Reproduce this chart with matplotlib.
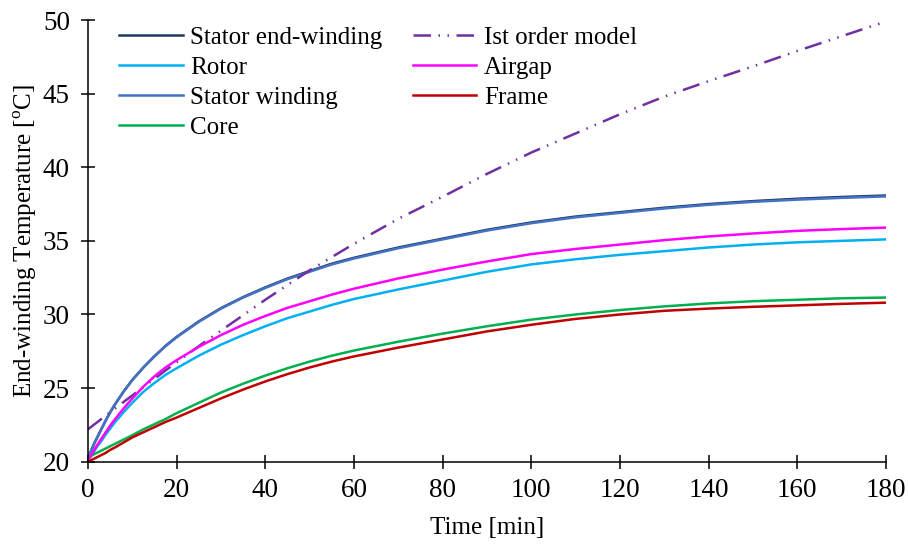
import matplotlib
matplotlib.use("Agg")
import matplotlib.pyplot as plt

plt.rcParams['font.family'] = ['Liberation Serif', 'DejaVu Serif']
plt.rcParams['mathtext.fontset'] = 'custom'
plt.rcParams['mathtext.rm'] = 'Liberation Serif'

# Time samples [min]
time_min = [0, 0.5, 1, 1.5, 2, 3, 4, 5, 6, 8, 10, 12.5, 15, 17.5, 20, 25, 30,
            35, 40, 45, 50, 55, 60, 70, 80, 90, 100, 110, 120, 130, 140, 150,
            160, 170, 180]

stator_end_winding = [20.2, 20.6, 20.95, 21.3, 21.6, 22.2, 22.8, 23.35, 23.85,
                      24.75, 25.55, 26.4, 27.17, 27.87, 28.48, 29.53, 30.43,
                      31.18, 31.84, 32.44, 32.95, 33.45, 33.85, 34.55, 35.15,
                      35.75, 36.25, 36.65, 36.95, 37.25, 37.5, 37.7, 37.86,
                      37.98, 38.08]
rotor = [20.1, 20.3, 20.5, 20.75, 21.0, 21.4, 21.85, 22.25, 22.65, 23.35, 24.0,
         24.75, 25.35, 25.9, 26.35, 27.2, 27.95, 28.6, 29.2, 29.75, 30.2, 30.65,
         31.05, 31.7, 32.3, 32.9, 33.4, 33.75, 34.05, 34.3, 34.55, 34.75, 34.9,
         35.0, 35.1]
stator_winding = [20.2, 20.6, 20.95, 21.3, 21.6, 22.2, 22.8, 23.35, 23.85, 24.75,
                  25.55, 26.4, 27.15, 27.85, 28.45, 29.5, 30.4, 31.15, 31.8,
                  32.4, 32.9, 33.4, 33.8, 34.5, 35.1, 35.7, 36.2, 36.6, 36.9,
                  37.2, 37.45, 37.65, 37.8, 37.92, 38.02]
core = [20.3, 20.38, 20.45, 20.53, 20.6, 20.75, 20.9, 21.05, 21.2, 21.5, 21.8,
        22.2, 22.55, 22.9, 23.3, 24.0, 24.7, 25.3, 25.85, 26.35, 26.8, 27.2,
        27.55, 28.15, 28.7, 29.2, 29.65, 30.0, 30.3, 30.55, 30.75, 30.9, 31.0,
        31.1, 31.15]
first_order_model = [22.2, 22.32, 22.43, 22.55, 22.66, 22.9, 23.13, 23.36, 23.59,
                     24.05, 24.5, 25.07, 25.63, 26.2, 26.75, 27.85, 28.9, 29.95,
                     31.0, 32.0, 33.0, 33.9, 34.8, 36.5, 38.0, 39.55, 41.0, 42.3,
                     43.6, 44.8, 45.85, 46.85, 47.9, 48.9, 49.9]
airgap = [20.1, 20.35, 20.6, 20.85, 21.1, 21.55, 22.0, 22.45, 22.85, 23.6, 24.3,
          25.1, 25.8, 26.4, 26.9, 27.8, 28.6, 29.3, 29.9, 30.45, 30.9, 31.35,
          31.75, 32.45, 33.05, 33.6, 34.1, 34.45, 34.75, 35.05, 35.3, 35.5,
          35.68, 35.8, 35.9]
frame = [20.0, 20.07, 20.15, 20.22, 20.3, 20.45, 20.6, 20.8, 20.95, 21.3, 21.65,
         22.0, 22.35, 22.7, 23.0, 23.65, 24.3, 24.9, 25.45, 25.95, 26.4, 26.8,
         27.15, 27.75, 28.3, 28.85, 29.3, 29.7, 30.0, 30.25, 30.4, 30.52, 30.62,
         30.72, 30.8]

x_ticks = [0, 20, 40, 60, 80, 100, 120, 140, 160, 180]
y_ticks = [20, 25, 30, 35, 40, 45, 50]

FS = 18
TICK_FS = 19.5

fig = plt.figure(figsize=(9.08, 5.44), dpi=100)
ax = fig.add_axes([0.0969, 0.1513, 0.8789, 0.8119])

lw = 1.8
h_sew, = ax.plot(time_min, stator_end_winding, color='#1F3864', lw=lw, label='Stator end-winding')
h_rot, = ax.plot(time_min, rotor, color='#00B0F0', lw=lw, label='Rotor')
h_sw, = ax.plot(time_min, stator_winding, color='#4472C4', lw=lw, label='Stator winding')
h_core, = ax.plot(time_min, core, color='#00B050', lw=lw, label='Core')
h_fom, = ax.plot(time_min, first_order_model, color='#7030A0', lw=lw,
                 linestyle=(0, (7, 3, 0.6, 3, 0.6, 3)), label='Ist order model')
h_air, = ax.plot(time_min, airgap, color='#FF00FF', lw=lw, label='Airgap')
h_fr, = ax.plot(time_min, frame, color='#C00000', lw=lw, label='Frame')

ax.set_xlim(0, 180)
ax.set_ylim(20, 50)
ax.set_xticks(x_ticks)
ax.set_yticks(y_ticks)
ax.tick_params(direction='inout', length=10, width=1.1, labelsize=TICK_FS)
ax.tick_params(axis='x', pad=7)
ax.tick_params(axis='y', pad=8)
for side in ('top', 'right'):
    ax.spines[side].set_visible(False)
for side in ('left', 'bottom'):
    ax.spines[side].set_linewidth(1.1)

ax.set_xlabel('Time [min]', fontsize=FS, labelpad=10)
ax.set_ylabel('End-winding Temperature [$^{\\mathrm{o}}$C]', fontsize=FS, labelpad=3)

ax.legend(handles=[h_sew, h_rot, h_sw, h_core, h_fom, h_air, h_fr],
          ncol=2, loc='upper left', bbox_to_anchor=(0.0265, 1.009), frameon=False,
          fontsize=FS, handlelength=2.55, handletextpad=0.3, columnspacing=1.2,
          labelspacing=0.3, borderaxespad=0)

fig.savefig('out.png', dpi=100)
